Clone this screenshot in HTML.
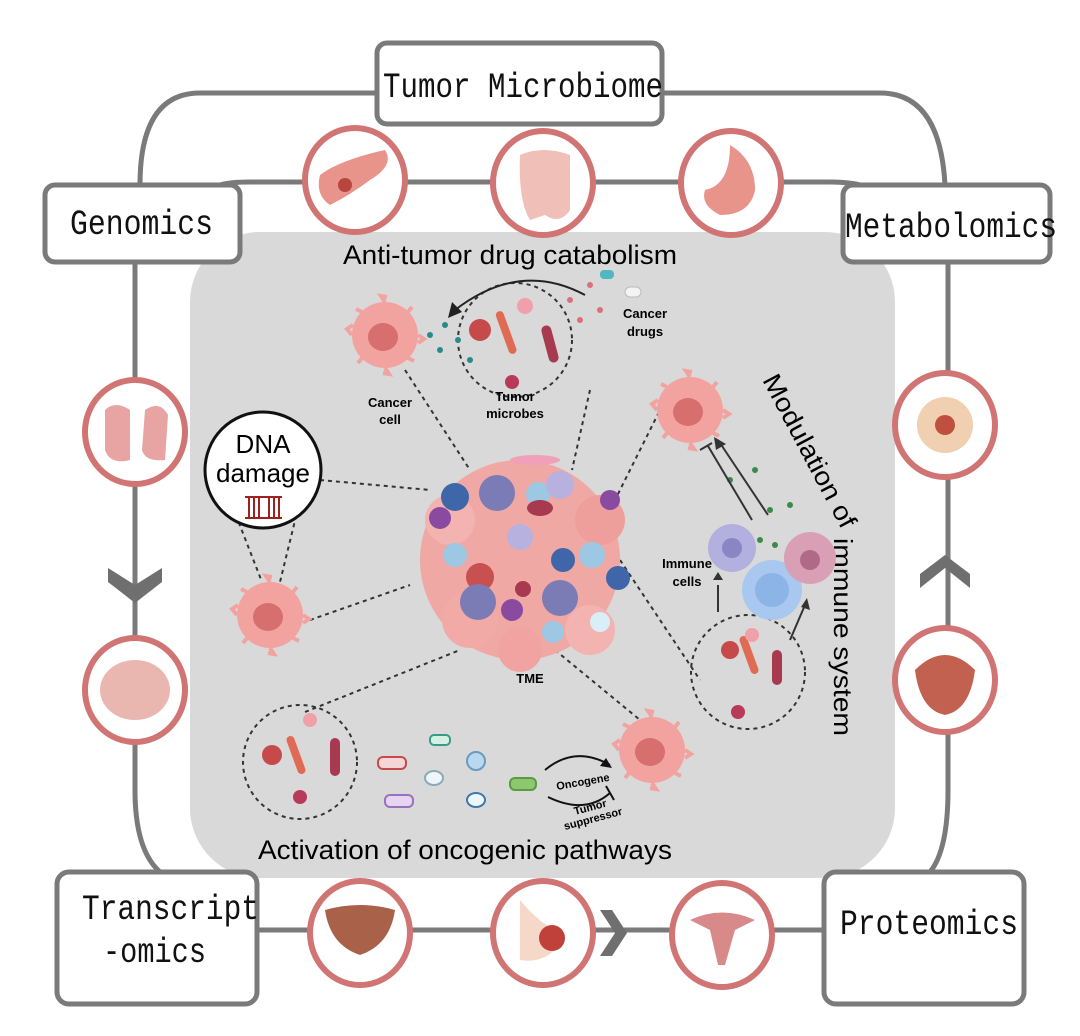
<!DOCTYPE html>
<html><head><meta charset="utf-8"><style>
html,body{margin:0;padding:0;background:#fff;}
svg{display:block;}
.bx{font-family:"Liberation Mono",monospace;font-size:35px;fill:#111;}
.s{font-family:"Liberation Sans",sans-serif;}
</style></head><body>
<svg width="1080" height="1036" viewBox="0 0 1080 1036" xmlns="http://www.w3.org/2000/svg">
<defs>
<g id="cc"><circle r="33" fill="#f2a3a0"/>
<path d="M-33,0 l-5,-6 l6,-4 M0,-33 l-4,-6 l6,1 M33,0 l6,4 l-6,4 M0,33 l4,6 l-6,-1 M-23,-23 l-6,-3 M23,23 l6,3 M23,-23 l4,-5 M-23,23 l-4,5" stroke="#f2a3a0" stroke-width="4" fill="none"/>
<ellipse rx="15" ry="14" cx="-2" cy="2" fill="#d86f6f"/></g>
</defs>
<!-- outer loop -->
<path d="M377,93 H200 Q140,93 140,185" fill="none" stroke="#7a7a7a" stroke-width="5"/>
<path d="M662,93 H880 Q940,93 945,185" fill="none" stroke="#7a7a7a" stroke-width="5"/>
<path d="M135,262 V790 Q135,850 160,872" fill="none" stroke="#7a7a7a" stroke-width="5"/>
<path d="M948,262 V790 Q948,850 930,872" fill="none" stroke="#7a7a7a" stroke-width="5"/>
<!-- inner line -->
<path d="M220,185 Q230,182 250,182 H830 Q855,182 870,188" fill="none" stroke="#7a7a7a" stroke-width="5"/>
<line x1="257" y1="930" x2="824" y2="930" stroke="#7a7a7a" stroke-width="5"/>
<!-- panel -->
<rect x="190" y="232" width="705" height="646" rx="70" fill="#d9d9d9"/>
<!-- boxes -->
<rect x="377" y="43" width="285" height="81" rx="10" fill="#fff" stroke="#7a7a7a" stroke-width="5"/>
<text x="383" y="97" class="bx" textLength="280" lengthAdjust="spacingAndGlyphs">Tumor Microbiome</text>
<rect x="45" y="185" width="195" height="77" rx="10" fill="#fff" stroke="#7a7a7a" stroke-width="5"/>
<text x="70" y="234" class="bx" textLength="143" lengthAdjust="spacingAndGlyphs">Genomics</text>
<rect x="843" y="185" width="207" height="77" rx="10" fill="#fff" stroke="#7a7a7a" stroke-width="5"/>
<text x="845" y="237" class="bx" textLength="212" lengthAdjust="spacingAndGlyphs">Metabolomics</text>
<rect x="57" y="872" width="200" height="132" rx="12" fill="#fff" stroke="#7a7a7a" stroke-width="5"/>
<text x="82" y="919" class="bx" textLength="177" lengthAdjust="spacingAndGlyphs">Transcript</text>
<text x="103" y="962" class="bx" textLength="103" lengthAdjust="spacingAndGlyphs">-omics</text>
<rect x="824" y="872" width="200" height="132" rx="12" fill="#fff" stroke="#7a7a7a" stroke-width="5"/>
<text x="840" y="934" class="bx" textLength="178" lengthAdjust="spacingAndGlyphs">Proteomics</text>
<!-- organ circles -->
<g fill="#fff" stroke="#d07474" stroke-width="6">
<ellipse cx="355" cy="180" rx="50" ry="52"/><ellipse cx="543" cy="183" rx="50" ry="52"/><ellipse cx="731" cy="183" rx="50" ry="52"/>
<ellipse cx="135" cy="432" rx="50" ry="52"/><ellipse cx="135" cy="690" rx="50" ry="52"/>
<ellipse cx="945" cy="425" rx="50" ry="52"/><ellipse cx="945" cy="680" rx="50" ry="52"/>
<ellipse cx="360" cy="933" rx="50" ry="52"/><ellipse cx="543" cy="933" rx="50" ry="52"/><ellipse cx="722" cy="935" rx="50" ry="52"/>
</g>
<g fill="#e8948a">
<path d="M320,175 Q340,160 385,150 Q395,165 370,180 Q350,195 330,205 Q315,195 320,175Z"/>
<path d="M520,155 Q543,145 570,155 L570,210 Q560,225 545,215 L530,220 Q518,200 520,155Z" fill="#f0c0b8"/>
<path d="M730,145 Q755,160 755,190 Q750,215 720,215 Q700,205 705,190 Q730,185 730,145Z"/>
<path d="M105,410 Q115,400 130,410 L130,460 Q110,465 105,450Z M145,410 Q160,400 168,415 L165,460 Q145,462 142,450Z" fill="#e8a3a3"/>
<ellipse cx="135" cy="690" rx="35" ry="30" fill="#eab7b0"/>
<circle cx="945" cy="425" r="28" fill="#f0d0b0"/><circle cx="945" cy="425" r="10" fill="#c04f40"/>
<path d="M915,670 Q945,640 975,670 Q970,710 945,715 Q920,710 915,670Z" fill="#c2614f"/>
<path d="M325,910 Q360,900 395,910 Q390,945 360,955 Q330,945 325,910Z" fill="#a9614a"/>
<path d="M520,900 Q540,925 565,935 Q550,965 520,960Z" fill="#f5d8c8"/><circle cx="552" cy="938" r="13" fill="#c0403a"/>
<path d="M690,920 Q722,905 755,920 L735,930 L725,965 L718,965 L710,930Z" fill="#d88a8a"/>
</g>
<circle cx="345" cy="185" r="7" fill="#b8463e"/>
<!-- chevrons -->
<path d="M108,568 L135,585 L162,568 L162,582 L135,603 L108,582Z" fill="#6f6f6f"/>
<path d="M920,588 L945,568 L970,588 L970,574 L945,555 L920,574Z" fill="#6f6f6f"/>
<path d="M600,910 L612,910 L627,933 L612,956 L600,956 L615,933Z" fill="#6f6f6f"/>
<!-- texts -->
<text x="343" y="264" class="s" font-size="27" textLength="334" lengthAdjust="spacingAndGlyphs">Anti-tumor drug catabolism</text>
<text x="258" y="859" class="s" font-size="27" textLength="414" lengthAdjust="spacingAndGlyphs">Activation of oncogenic pathways</text>
<text transform="translate(762,380) rotate(62)" class="s" font-size="26" textLength="170" lengthAdjust="spacingAndGlyphs">Modulation of</text>
<text transform="translate(834,538) rotate(90)" class="s" font-size="26" textLength="198" lengthAdjust="spacingAndGlyphs">immune system</text>
<!-- dashed lines -->
<g stroke="#333" stroke-width="2" stroke-dasharray="4,4" fill="none">
<line x1="405" y1="370" x2="470" y2="470"/><line x1="590" y1="390" x2="572" y2="470"/>
<line x1="320" y1="480" x2="430" y2="490"/>
<line x1="230" y1="500" x2="262" y2="582"/><line x1="300" y1="500" x2="280" y2="582"/>
<line x1="310" y1="620" x2="410" y2="585"/>
<line x1="600" y1="530" x2="665" y2="400"/><line x1="620" y1="560" x2="700" y2="680"/>
<line x1="305" y1="712" x2="460" y2="650"/><line x1="555" y1="650" x2="640" y2="720"/>
<circle cx="515" cy="340" r="57"/><circle cx="748" cy="672" r="57"/><circle cx="300" cy="762" r="57"/>
</g>
<!-- DNA damage -->
<circle cx="263" cy="470" r="58" fill="#fff" stroke="#111" stroke-width="3"/>
<text x="263" y="453" class="s" font-size="26" text-anchor="middle">DNA</text>
<text x="263" y="482" class="s" font-size="26" text-anchor="middle">damage</text>
<g stroke="#a02020" stroke-width="2"><line x1="245" y1="497" x2="282" y2="497"/><line x1="245" y1="518" x2="282" y2="518"/>
<line x1="249" y1="497" x2="249" y2="518"/><line x1="254" y1="497" x2="254" y2="518"/><line x1="259" y1="497" x2="259" y2="518"/><line x1="269" y1="497" x2="269" y2="518"/><line x1="274" y1="497" x2="274" y2="518"/><line x1="279" y1="497" x2="279" y2="518"/></g>
<!-- tumor cluster -->
<g>
<circle cx="520" cy="560" r="100" fill="#f0a8a5"/>
<circle cx="450" cy="520" r="25" fill="#f3b3b0"/><circle cx="600" cy="520" r="25" fill="#ee9f9c"/><circle cx="470" cy="620" r="28" fill="#f2aaa6"/><circle cx="590" cy="630" r="25" fill="#f3b3b0"/><circle cx="520" cy="650" r="22" fill="#f0a3a0"/>
<circle cx="455" cy="497" r="14" fill="#3f66a8"/><circle cx="497" cy="493" r="18" fill="#7b7bb5"/><circle cx="538" cy="494" r="12" fill="#9cc8e3"/><circle cx="560" cy="485" r="14" fill="#b7b1df"/>
<circle cx="440" cy="518" r="11" fill="#8a4aa0"/><circle cx="610" cy="500" r="10" fill="#8a4aa0"/>
<circle cx="520" cy="537" r="13" fill="#b7b1df"/><circle cx="455" cy="555" r="12" fill="#9cc8e3"/><circle cx="592" cy="555" r="13" fill="#9cc8e3"/>
<circle cx="563" cy="560" r="12" fill="#3f66a8"/><circle cx="618" cy="578" r="12" fill="#3f66a8"/>
<circle cx="480" cy="577" r="14" fill="#c95050"/><circle cx="478" cy="602" r="18" fill="#7b7bb5"/><circle cx="560" cy="598" r="18" fill="#7b7bb5"/>
<circle cx="512" cy="610" r="11" fill="#8a4aa0"/><circle cx="553" cy="632" r="11" fill="#9cc8e3"/><circle cx="600" cy="622" r="10" fill="#d9eef6"/>
<circle cx="523" cy="589" r="8" fill="#a83a4f"/><ellipse cx="540" cy="508" rx="13" ry="8" fill="#a83a4f"/>
<ellipse cx="535" cy="460" rx="25" ry="5" fill="#f0a0b8"/>
</g>
<text x="530" y="683" class="s" font-size="13" font-weight="bold" text-anchor="middle">TME</text>
<!-- cancer cells -->
<use href="#cc" x="385" y="335"/><use href="#cc" x="270" y="615"/><use href="#cc" x="690" y="410"/><use href="#cc" x="652" y="750"/>
<text x="390" y="407" class="s" font-size="13" font-weight="bold" text-anchor="middle">Cancer</text>
<text x="390" y="424" class="s" font-size="13" font-weight="bold" text-anchor="middle">cell</text>
<text x="515" y="401" class="s" font-size="13" font-weight="bold" text-anchor="middle">Tumor</text>
<text x="515" y="418" class="s" font-size="13" font-weight="bold" text-anchor="middle">microbes</text>
<text x="645" y="318" class="s" font-size="13" font-weight="bold" text-anchor="middle">Cancer</text>
<text x="645" y="336" class="s" font-size="13" font-weight="bold" text-anchor="middle">drugs</text>
<text x="687" y="568" class="s" font-size="13" font-weight="bold" text-anchor="middle">Immune</text>
<text x="687" y="586" class="s" font-size="13" font-weight="bold" text-anchor="middle">cells</text>
<text x="557" y="790" class="s" font-size="11" font-weight="bold" transform="rotate(-10 557 790)">Oncogene</text>
<text x="575" y="815" class="s" font-size="11" font-weight="bold" transform="rotate(-15 575 815)">Tumor</text>
<text x="565" y="830" class="s" font-size="11" font-weight="bold" transform="rotate(-15 565 830)">suppressor</text>
<!-- microbes in circles -->
<g>
<circle cx="480" cy="330" r="11" fill="#c74a4a"/><rect x="502" y="310" width="8" height="45" rx="4" fill="#e06b55" transform="rotate(-20 506 332)"/>
<rect x="545" y="325" width="10" height="38" rx="5" fill="#a83a4f" transform="rotate(-15 550 344)"/>
<circle cx="525" cy="306" r="8" fill="#f0a0a8"/><circle cx="512" cy="382" r="7" fill="#b83a5a"/>
<circle cx="730" cy="650" r="9" fill="#c74a4a"/><rect x="745" y="635" width="8" height="40" rx="4" fill="#e06b55" transform="rotate(-20 749 655)"/>
<rect x="772" y="650" width="10" height="35" rx="5" fill="#a83a4f"/><circle cx="752" cy="635" r="7" fill="#f0a0a8"/><circle cx="738" cy="712" r="7" fill="#b83a5a"/>
<circle cx="272" cy="755" r="10" fill="#c74a4a"/><rect x="292" y="735" width="8" height="40" rx="4" fill="#e06b55" transform="rotate(-20 296 755)"/>
<rect x="330" y="738" width="10" height="38" rx="5" fill="#a83a4f"/><circle cx="310" cy="720" r="7" fill="#f0a0a8"/><circle cx="300" cy="797" r="7" fill="#b83a5a"/>
</g>
<!-- drug dots -->
<g fill="#2a8a8a"><circle cx="430" cy="335" r="3"/><circle cx="445" cy="325" r="3"/><circle cx="458" cy="340" r="3"/><circle cx="440" cy="350" r="3"/><circle cx="470" cy="360" r="3"/></g>
<g fill="#d9707a"><circle cx="590" cy="285" r="3"/><circle cx="600" cy="310" r="3"/><circle cx="580" cy="320" r="3"/><circle cx="570" cy="300" r="3"/></g>
<rect x="600" y="270" width="14" height="9" rx="4" fill="#4fb8c0"/><rect x="625" y="287" width="16" height="10" rx="5" fill="#f3f3f3" stroke="#bbb"/>
<path d="M585,295 Q520,260 455,310" fill="none" stroke="#222" stroke-width="2"/><path d="M448,318 L452,302 L462,312Z" fill="#222"/>
<!-- immune cells -->
<circle cx="732" cy="548" r="24" fill="#b3b0e0"/><circle cx="732" cy="548" r="10" fill="#8a86c4"/>
<circle cx="772" cy="590" r="30" fill="#a8c8ef"/><circle cx="772" cy="590" r="17" fill="#8cb4e6"/>
<circle cx="810" cy="558" r="26" fill="#d9a0b5"/><circle cx="810" cy="560" r="10" fill="#b06a88"/>
<g fill="#3a8a4a"><circle cx="730" cy="480" r="3"/><circle cx="755" cy="470" r="3"/><circle cx="770" cy="510" r="3"/><circle cx="790" cy="505" r="3"/><circle cx="760" cy="540" r="3"/><circle cx="775" cy="545" r="3"/></g>
<g stroke="#333" stroke-width="2"><line x1="752" y1="520" x2="708" y2="446"/><line x1="768" y1="515" x2="718" y2="440"/><line x1="700" y1="450" x2="712" y2="443"/>
<line x1="718" y1="612" x2="718" y2="585"/><line x1="790" y1="640" x2="805" y2="605"/></g>
<path d="M714,437 L726,444 L716,450Z M713,580 L723,580 L718,572Z M807,598 L810,610 L801,607Z" fill="#333"/>
<!-- pathway -->
<g stroke-width="2">
<rect x="378" y="757" width="28" height="12" rx="5" fill="#f5d5d5" stroke="#c74a4a"/>
<rect x="385" y="795" width="28" height="12" rx="5" fill="#e5d5f0" stroke="#9a70c0"/>
<rect x="430" y="735" width="20" height="10" rx="4" fill="#d5f0e5" stroke="#3a9a8a"/>
<ellipse cx="434" cy="778" rx="9" ry="7" fill="#eef5fb" stroke="#8ab"/>
<circle cx="476" cy="761" r="9" fill="#b8d8f0" stroke="#6a9ac0"/>
<ellipse cx="476" cy="800" rx="9" ry="7" fill="#eef5fb" stroke="#3a7ab0"/>
<rect x="510" y="778" width="26" height="12" rx="5" fill="#8cc870" stroke="#5a9a40"/>
</g>
<path d="M545,770 Q575,745 610,765 M548,797 Q585,815 610,793" fill="none" stroke="#111" stroke-width="2"/>
<path d="M612,768 L600,766 L606,758Z" fill="#111"/><line x1="606" y1="786" x2="614" y2="800" stroke="#111" stroke-width="2"/>
</svg>
</body></html>
